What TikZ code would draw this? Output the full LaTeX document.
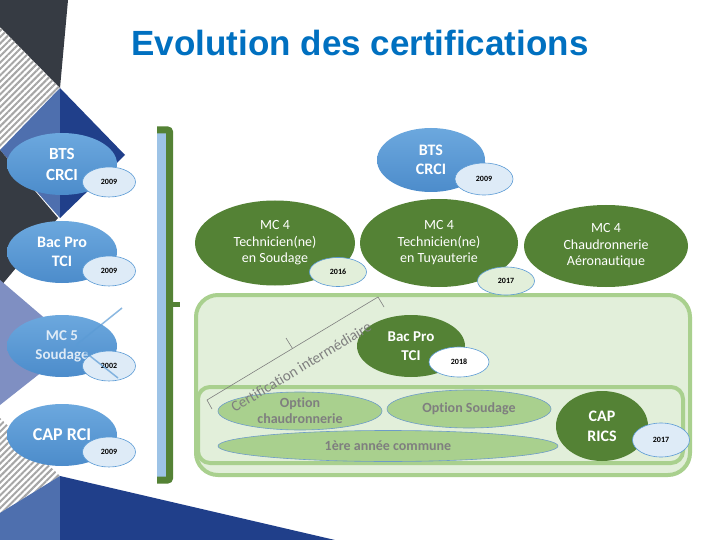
\documentclass[tikz,border=0pt]{standalone}
\usepackage{fontspec}
\setmainfont{Carlito}[Ligatures=NoCommon]
\newfontfamily\titlefont{Liberation Sans}
\usetikzlibrary{shapes,calc,patterns.meta}

\definecolor{slate}{HTML}{363B43}
\definecolor{navy}{HTML}{203F8A}
\definecolor{midblue}{HTML}{4E6FAE}
\definecolor{lavender}{HTML}{7F8FC2}
\definecolor{hatch}{HTML}{A6A6A6}
\definecolor{titleblue}{HTML}{0070C0}
\definecolor{certtop}{HTML}{6CA8DE}
\definecolor{certbot}{HTML}{4C8CCB}
\definecolor{darkgreen}{HTML}{548235}
\definecolor{panelfill}{HTML}{E2EFDA}
\definecolor{panelline}{HTML}{A9D08E}
\definecolor{barblue}{HTML}{9DC3E6}
\definecolor{yearblue}{HTML}{DEEBF7}
\definecolor{yearline}{HTML}{5B9BD5}
\definecolor{optline}{HTML}{6E9CC8}
\definecolor{optgray}{HTML}{7F7F7F}

\begin{document}
\begin{tikzpicture} [x=1pt, y=-1pt,
				cert/.style={
				% The shape:
				ellipse,
				% The size:
				minimum width=110pt, minimum height=62pt, inner sep=0pt,
				% The filling:
				top color=certtop,
				bottom color=certbot,
				% Font
				text=white, font=\fontsize{16}{19}\selectfont\bfseries
				},
				mc/.style={
				% The shape:
				ellipse,
				% The size:
				minimum width=160pt, minimum height=85pt, inner sep=0pt,
				% The filling:
				fill=darkgreen,
				% Font
				text=white, font=\fontsize{14}{16.5}\selectfont
				},
				year/.style={
				% The shape:
				ellipse,
				% The size:
				minimum width=53pt, minimum height=30pt, inner sep=0pt,
				% The border:
				draw=yearline, line width=.6pt,
				% The filling:
				fill=yearblue,
				% Font
				font=\fontsize{8}{9}\selectfont\bfseries
				},
				option/.style={
				% The shape:
				ellipse,
				% The size:
				minimum width=164pt, minimum height=38pt, inner sep=0pt,
				% The border:
				draw=optline, line width=.6pt,
				% The filling:
				fill=panelline
				},
				opttext/.style={
				text=optgray, font=\fontsize{14}{16}\selectfont\bfseries
				},
				panel/.style={
				draw=panelline, line width=4pt, fill=panelfill
				},
				]
    \tikzstyle{every node} = [align=center]
    % page and slide background
    \fill[white] (0,0) rectangle (720,540);
    \useasboundingbox (0,0) rectangle (720,540);
    \fill[slate] (0,0) -- (68,0) -- (60,88) -- (0,27) -- cycle;
    \fill[midblue] (60,88) -- (60,218) -- (0,150) -- cycle;
    \fill[navy] (60,88) -- (125,155) -- (60,218) -- cycle;
    \fill[pattern={Lines[angle=45,distance=4.5pt,line width=2pt]}, pattern color=hatch]
        (0,27) -- (60,88) -- (0,148) -- cycle;
    \fill[slate] (0,150) -- (58,218) -- (0,287) -- cycle;
    \fill[lavender] (0,280) -- (76,345) -- (0,405) -- cycle;
    \fill[pattern={Lines[angle=45,distance=4.5pt,line width=2pt]}, pattern color=hatch]
        (0,418) -- (60,476) -- (0,513) -- cycle;
    \fill[midblue] (0,513) -- (60,476) -- (60,540) -- (0,540) -- cycle;
    \fill[navy] (60,476) -- (335,540) -- (60,540) -- cycle;

    % title
    \node[anchor=base, text=titleblue, font=\titlefont\bfseries\fontsize{35}{40}\selectfont]
        (title) at (360,56) {Evolution des certifications};

    % bracket
    \fill[barblue] (157,131) rectangle (166,477);
    \draw[darkgreen, line width=7pt, rounded corners=2pt] (157,130) -- (169.5,130) -- (169.5,480) -- (157,480);
    \draw[darkgreen, line width=5pt] (169.5,304) -- (180,304);

    % green panel
    \draw[panel, rounded corners=22pt] (196,295) rectangle (690,475);
    \draw[panel, rounded corners=12pt] (198,387) rectangle (683,463);

    % left column
    \node[cert, font=\fontsize{17}{21}\selectfont\bfseries] (btsl) at (62,164) {BTS\\CRCI};
    \node[year] (btsly) at ($(btsl)+(47,18)$) {2009};
    \node[cert] (bacl) at (62,252) {Bac Pro\\TCI};
    \node[year] (bacly) at ($(bacl)+(47,19)$) {2009};
    \node[cert, font=\fontsize{15}{19}\selectfont\bfseries, text opacity=.8] (mcl) at (62,346) {MC 5\\Soudage};
    \node[year] (mcly) at ($(mcl)+(47,20)$) {2002};
    \node[cert, font=\fontsize{18}{21}\selectfont\bfseries] (capl) at (62,435) {CAP RCI};
    \node[year] (caply) at ($(capl)+(47,17)$) {2009};
    \draw[yearline, line width=1.5pt, opacity=.7] (76,345) -- (122,308) (76,345) -- (118,378);

    % top row
    \node[cert, minimum width=108pt, minimum height=64pt] (btsr) at (431,160) {BTS\\CRCI};
    \node[year, minimum width=58pt, minimum height=32pt] (btsry) at ($(btsr)+(53,19)$) {2009};
    \node[mc] (mcs) at (275,243) {MC 4\\Technicien(ne)\\en Soudage};
    \node[year, fill=panelfill, minimum width=57pt, minimum height=29pt] (mcsy) at ($(mcs)+(63,29)$) {2016};
    \node[mc, minimum width=158pt, minimum height=88pt] (mct) at (439,243) {MC 4\\Technicien(ne)\\en Tuyauterie};
    \node[year, fill=panelfill, minimum width=57pt, minimum height=28pt] (mcty) at ($(mct)+(67,38)$) {2017};
    \node[mc, minimum width=164pt, minimum height=82pt] (mca) at (606,246) {MC 4\\Chaudronnerie\\Aéronautique};

    % inside the panel
    \node[mc, minimum width=108pt, minimum height=62pt, font=\fontsize{15}{19}\selectfont\bfseries] (bacp) at (411,346) {Bac Pro\\TCI};
    \node[year, fill=white, minimum width=60pt, minimum height=30pt] (bacpy) at ($(bacp)+(48,16)$) {2018};
    \node[option, label={[opttext]center:Option\\chaudronnerie}] (optc) at (300,411) {};
    \node[option, label={[opttext]center:Option Soudage}] (opts) at (469,409) {};
    \node[option, minimum width=340pt, minimum height=31pt, label={[opttext]center:1ère année commune}] (first) at (388,446) {};
    \node[mc, minimum width=92pt, minimum height=70pt, font=\fontsize{16}{20}\selectfont\bfseries] (caps) at (602,426) {CAP\\RICS};
    \node[year, minimum width=57pt, minimum height=34pt] (capsy) at ($(caps)+(59,14)$) {2017};

    % certification intermediaire
    \draw[optgray, line width=.6pt] (212,409) -- (207,400) -- (292.5,348.5) -- (286,338)
        (292.5,348.5) -- (378,297) -- (384,307);
    \node[rotate=31, text=optgray, font=\fontsize{15}{17}\selectfont] (inter) at (301,367) {Certification intermédiaire};
\end{tikzpicture}
\end{document}
